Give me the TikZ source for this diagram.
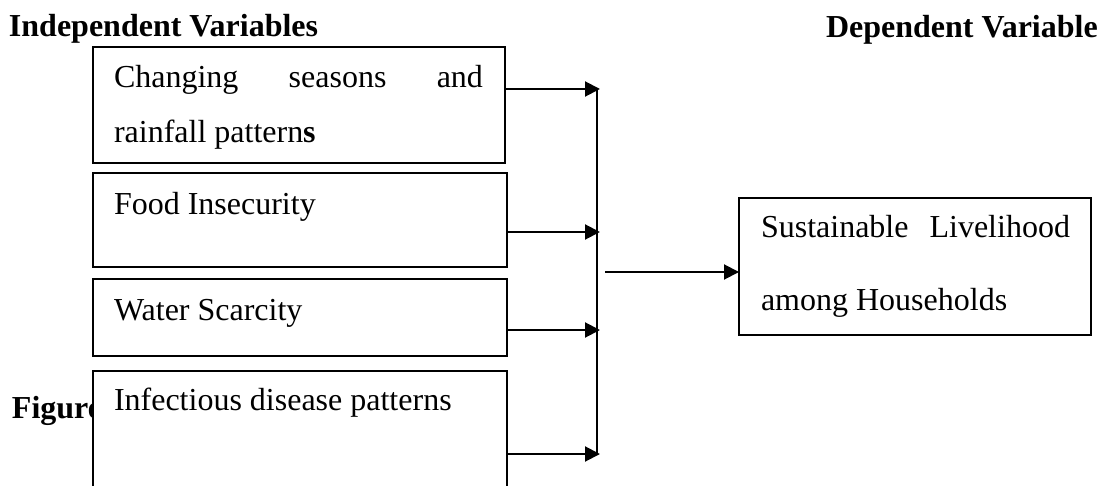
\documentclass[tikz,border=0pt]{standalone}
\usepackage{fontspec}
\setmainfont{Liberation Serif}
\usetikzlibrary{arrows.meta}
\begin{document}
\begin{tikzpicture}[x=1pt,y=-1pt,
  box/.style={draw, line width=1.6pt, fill=white, anchor=north west, inner sep=0pt, outer sep=0pt},
  lbl/.style={anchor=base west, inner sep=0pt, outer sep=0pt, font=\fontsize{32}{32}\selectfont},
  head/.style={anchor=base west, inner sep=0pt, outer sep=0pt, font=\fontsize{32}{32}\selectfont\bfseries},
  link/.style={line width=2pt, -{Triangle[length=15pt,width=15pt]}},
  bus/.style={line width=2pt}]
\useasboundingbox (0,0) rectangle (1110,486);
\clip (0,0) rectangle (1110,486);

% headings
\node[head] (hin) at (9,37) {Independent Variables};
\node[head] (hdep) at (826,38) {Dependent Variable};
\node[head] (fig) at (12,418) {Figure};

% independent variable boxes
\node[box, minimum width=412pt, minimum height=116pt] (b1) at (93,47) {};
\node[box, minimum width=414pt, minimum height=94pt] (b2) at (93,173) {};
\node[box, minimum width=414pt, minimum height=77pt] (b3) at (93,279) {};
\node[box, minimum width=414pt, minimum height=140pt] (b4) at (93,371) {};

\node[lbl] (t1a) at (114,88) {\hbox to 369pt{Changing\hfill seasons\hfill and}};
\node[lbl] (t1b) at (114,143) {rainfall pattern\textbf{s}};
\node[lbl] (t2) at (114,215) {Food Insecurity};
\node[lbl] (t3) at (114,320) {Water Scarcity};
\node[lbl] (t4) at (114,410) {Infectious disease patterns};

% dependent variable box
\node[box, minimum width=352pt, minimum height=137pt] (r) at (739,198) {};
\node[lbl] (r1) at (761,238) {\hbox to 309pt{Sustainable\hfill Livelihood}};
\node[lbl] (r2) at (761,310) {among Households};

% collecting bus and arrows
\coordinate (j1) at (597,89);
\coordinate (j2) at (597,232);
\coordinate (j3) at (597,330);
\coordinate (j4) at (597,454);
\coordinate (m) at (605,272);

\draw[bus] (j1) -- (j4);
\draw[link, shorten >=-3pt] (b1.east |- j1) -- (j1);
\draw[link, shorten >=-3pt] (b2.east |- j2) -- (j2);
\draw[link, shorten >=-3pt] (b3.east |- j3) -- (j3);
\draw[link, shorten >=-3pt] (b4.east |- j4) -- (j4);
\draw[link] (m) -- (r.west |- m);
\end{tikzpicture}
\end{document}
